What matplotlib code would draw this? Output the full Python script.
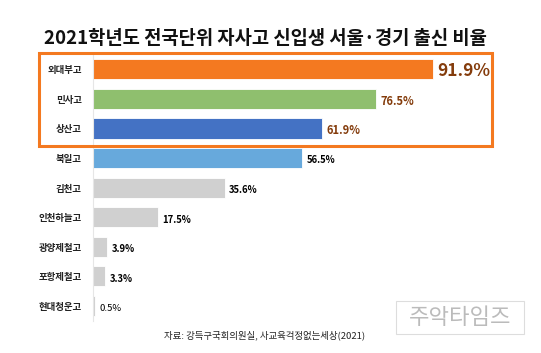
import numpy as np
import matplotlib.pyplot as plt
from matplotlib.patches import Rectangle

plt.rcParams['font.family'] = ['Noto Sans CJK KR', 'DejaVu Sans']

schools = ['외대부고', '민사고', '상산고', '북일고', '김천고', '인천하늘고', '광양제철고', '포항제철고', '현대청운고']
ratio = [91.9, 76.5, 61.9, 56.5, 35.6, 17.5, 3.9, 3.3, 0.5]
colors = ['#F47920', '#8FBF6E', '#4472C4', '#67A9DC', '#D0D0D0', '#D0D0D0', '#D0D0D0', '#D0D0D0', '#D0D0D0']
lab_colors = ['#843C0C', '#843C0C', '#843C0C', 'black', 'black', 'black', 'black', 'black', 'black']
lab_sizes = [12.5, 8, 8, 6.8, 6.8, 6.8, 6.8, 6.8, 6.8]

W, H = 541, 353
fig = plt.figure(figsize=(W/100, H/100), dpi=100)
ax = fig.add_axes([93/W, 1-320.6/H, 370/W, 266/H])

y = np.arange(len(schools))
ax.barh(y, ratio, height=0.68, color=colors, edgecolor='white', linewidth=0.6)
ax.set_xlim(0, 100)
ax.set_ylim(len(schools)-0.5, -0.5)
ax.set_yticks(y)
ax.set_yticklabels(schools, fontsize=6.8, fontweight='bold', color='#222222')
ax.tick_params(axis='y', length=0, pad=8)
ax.set_xticks([])
for s in ['top', 'right', 'bottom']:
    ax.spines[s].set_visible(False)
ax.spines['left'].set_color('#E6E6E6')

for i, v in enumerate(ratio):
    ax.text(v + 1.2, i + (0.05 if i == 0 else 0.08), f'{v}%', va='center', ha='left',
            fontsize=lab_sizes[i], color=lab_colors[i],
            fontweight='normal' if i == 8 else 'bold', clip_on=False)

fig.text(265/W, 1-38/H, '2021학년도 전국단위 자사고 신입생 서울·경기 출신 비율',
         ha='center', va='center', fontsize=13.5, fontweight='bold', color='#111111')

fig.patches.append(Rectangle((39/W, 1-146/H), 453/W, 93/H, transform=fig.transFigure,
                             fill=False, edgecolor='#F47920', linewidth=2.2))

fig.text(265/W, 1-335/H, '자료: 강득구국회의원실, 사교육걱정없는세상(2021)',
         ha='center', va='center', fontsize=6.8, color='#222222')

fig.patches.append(Rectangle((396/W, 1-334/H), 128/W, 33/H, transform=fig.transFigure,
                             fill=True, facecolor='white', edgecolor='#DDDDDD', linewidth=0.8))
fig.text(460/W, 1-317/H, '주악타임즈', ha='center', va='center', fontsize=16,
         color='#BBBBBB')

plt.savefig('out.png', dpi=100)
